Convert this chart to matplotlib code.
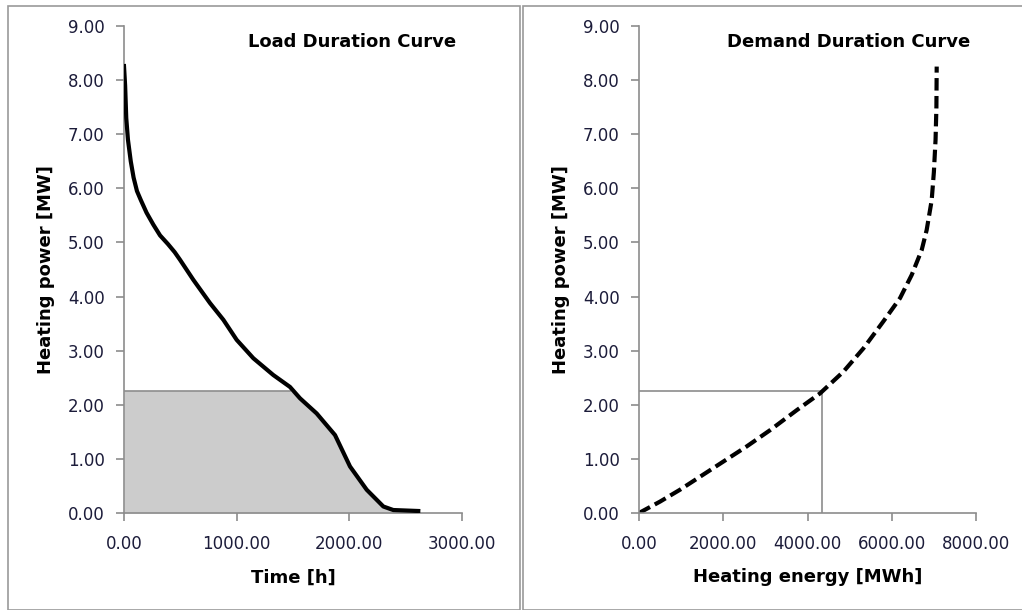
import numpy as np
import matplotlib
matplotlib.use('Agg')
import matplotlib.pyplot as plt
from matplotlib.patches import Rectangle

plt.rcParams['font.family'] = ['DejaVu Sans']

# load duration curve
time_h = [0, 10, 20, 35, 60, 85, 115, 150, 200, 260, 320, 390, 450, 497, 615,
          763, 882, 1000, 1148, 1325, 1473, 1562, 1710, 1873, 2006, 2154, 2302,
          2390, 2612]
load_mw = [8.26, 7.90, 7.30, 6.90, 6.50, 6.20, 5.95, 5.78, 5.55, 5.33, 5.13,
           4.97, 4.82, 4.68, 4.31, 3.88, 3.57, 3.20, 2.86, 2.55, 2.33, 2.12,
           1.84, 1.44, 0.86, 0.43, 0.12, 0.055, 0.037]

# demand duration curve
energy_mwh = [0, 498, 973, 2001, 2556, 3110, 3744, 4297, 4850, 5325, 5800,
              6196, 6474, 6711, 6829, 6948, 7000, 7040, 7060, 7067]
power_mw = [0, 0.21, 0.43, 0.95, 1.23, 1.53, 1.90, 2.21, 2.61, 3.04, 3.54,
            3.97, 4.40, 4.86, 5.23, 5.78, 6.30, 6.90, 7.50, 8.25]

cut_power = 2.26
cut_time = 1473
cut_energy = 4350

tick_col = '#1c1c3a'
spine_col = '#8c8c8c'

fig = plt.figure(figsize=(10.22, 6.10), dpi=100)
fig.patches.append(Rectangle((8/1022, 0), 512/1022, 1 - 6/610, transform=fig.transFigure,
                             fill=False, edgecolor='#9a9a9a', lw=1.2))
fig.patches.append(Rectangle((523/1022, 0), 520/1022, 1 - 6/610, transform=fig.transFigure,
                             fill=False, edgecolor='#9a9a9a', lw=1.2))

ax1 = fig.add_axes([124/1022, 1 - 513/610, 338/1022, 487/610])
ax2 = fig.add_axes([639/1022, 1 - 513/610, 337/1022, 487/610])


def style(ax, xmax, xstep, xlabel, title, tx):
    ax.set_xlim(0, xmax)
    ax.set_ylim(0, 9)
    ax.set_xticks(np.arange(0, xmax + 1, xstep))
    ax.set_yticks(np.arange(0, 9.5, 1))
    ax.xaxis.set_major_formatter(matplotlib.ticker.FormatStrFormatter('%.2f'))
    ax.yaxis.set_major_formatter(matplotlib.ticker.FormatStrFormatter('%.2f'))
    for s in ['top', 'right']:
        ax.spines[s].set_visible(False)
    for s in ['left', 'bottom']:
        ax.spines[s].set_color(spine_col)
        ax.spines[s].set_linewidth(1.2)
    ax.tick_params(colors=spine_col, labelcolor=tick_col, labelsize=12,
                   length=6, width=1.2, direction='out')
    ax.tick_params(axis='x', pad=10)
    ax.tick_params(axis='y', pad=8)
    ax.set_xlabel(xlabel, fontsize=13, fontweight='bold', labelpad=11)
    ax.set_ylabel('Heating power [MW]', fontsize=13, fontweight='bold', labelpad=9)
    ax.text(tx, 0.967, title, transform=ax.transAxes, ha='center', va='center',
            fontsize=13, fontweight='bold')


# left panel
t = np.array(time_h, dtype=float)
p = np.array(load_mw)
ax1.fill_between(t, 0, np.minimum(p, cut_power), color='#cccccc', lw=0, zorder=1)
ax1.plot([0, cut_time], [cut_power, cut_power], color='#8c8c8c', lw=1.2, zorder=2)
ax1.plot(t, p, color='black', lw=3, zorder=3, solid_joinstyle='round')
style(ax1, 3000, 1000, 'Time [h]', 'Load Duration Curve', 0.675)

# right panel
ax2.plot([0, cut_energy], [cut_power, cut_power], color='#8c8c8c', lw=1.2)
ax2.plot([cut_energy, cut_energy], [0, cut_power], color='#8c8c8c', lw=1.2)
ax2.plot(energy_mwh, power_mw, color='black', lw=3, linestyle=(0, (3, 1.3)))
style(ax2, 8000, 2000, 'Heating energy [MWh]', 'Demand Duration Curve', 0.623)

fig.savefig('out.png', dpi=100)
